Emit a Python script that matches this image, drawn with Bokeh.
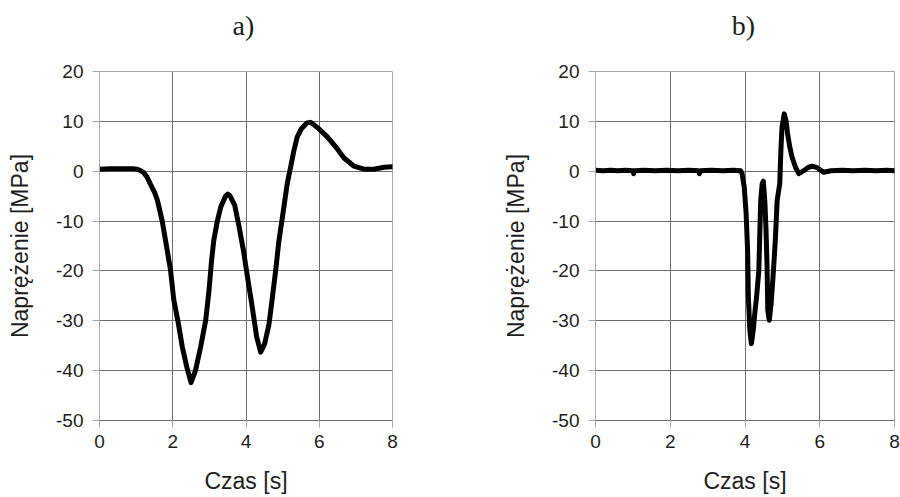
from bokeh.plotting import figure
from bokeh.layouts import row, column
from bokeh.models import Range1d, FixedTicker
from bokeh.core.properties import value
from bokeh.embed import file_html
from bokeh.resources import INLINE

# ---- data ----
x_ticks = [0, 2, 4, 6, 8]
y_ticks = [-50, -40, -30, -20, -10, 0, 10, 20]
y_tick_labels = ["-50", "-40", "-30", "-20", "-10", "0", "10", "20"]
panel_titles = ["a)", "b)"]
x_label = "Czas [s]"
y_label = "Naprężenie [MPa]"

t_a = [0.0, 0.3, 0.6, 0.9, 1.03, 1.1, 1.21, 1.3, 1.39, 1.5,
       1.58, 1.71, 1.85, 1.94, 2.03, 2.14, 2.26, 2.38, 2.5, 2.62,
       2.76, 2.9, 2.99, 3.06, 3.12, 3.22, 3.31, 3.44, 3.5, 3.56,
       3.69, 3.81, 3.93, 4.04, 4.17, 4.29, 4.4, 4.51, 4.63, 4.72,
       4.81, 4.9, 5.02, 5.13, 5.22, 5.31, 5.4, 5.51, 5.67, 5.75,
       5.81, 5.99, 6.22, 6.45, 6.67, 6.95, 7.22, 7.49, 7.77, 8.0]
s_a = [0.4, 0.5, 0.5, 0.5, 0.4, 0.2, -0.3, -1.2, -2.6, -4.2,
       -5.8, -9.9, -15.9, -19.9, -25.9, -30.0, -35.2, -39.2, -42.4, -40.0,
       -35.3, -29.9, -23.9, -17.9, -13.9, -9.9, -7.2, -5.0, -4.6, -4.9,
       -6.8, -11.1, -15.9, -21.2, -27.2, -33.2, -36.3, -34.6, -30.6, -25.3,
       -19.9, -13.9, -7.9, -2.3, 0.9, 4.2, 6.9, 8.5, 9.7, 9.8,
       9.6, 8.5, 6.9, 4.9, 2.7, 1.0, 0.4, 0.4, 0.8, 0.9]

t_b = [0.0, 0.2, 0.4, 0.6, 0.8, 1.0, 1.02, 1.05, 1.3, 1.6,
       1.9, 2.2, 2.5, 2.76, 2.78, 2.8, 3.1, 3.4, 3.7, 3.88,
       3.92, 3.98, 4.03, 4.07, 4.09, 4.13, 4.17, 4.22, 4.27, 4.31,
       4.37, 4.42, 4.46, 4.49, 4.53, 4.56, 4.59, 4.61, 4.65, 4.7,
       4.75, 4.81, 4.86, 4.93, 4.96, 4.99, 5.05, 5.1, 5.14, 5.2,
       5.26, 5.35, 5.44, 5.57, 5.7, 5.8, 5.93, 6.1, 6.3, 6.6,
       6.9, 7.2, 7.5, 7.8, 8.0]
s_b = [0.2, 0.1, 0.2, 0.1, 0.2, 0.1, -0.5, 0.1, 0.2, 0.1,
       0.2, 0.1, 0.2, 0.1, -0.5, 0.1, 0.2, 0.1, 0.2, 0.1,
       -0.4, -3.2, -8.5, -16.0, -25.2, -31.9, -34.6, -31.9, -27.9, -25.2,
       -19.9, -5.9, -2.5, -2.0, -5.9, -11.2, -19.0, -27.9, -29.9, -26.5,
       -21.2, -14.0, -5.9, -2.5, 4.1, 8.8, 11.5, 10.1, 7.5, 4.8,
       2.8, 0.8, -0.5, 0.1, 0.8, 1.0, 0.7, -0.2, 0.1, 0.2,
       0.1, 0.2, 0.1, 0.2, 0.1]

GRID = "#6e6e6e"
LIGHT = "#a8a8a8"
TXT = "#1e1e1e"
SANS = "Liberation Sans"
SERIF = "Liberation Serif"
CAP_H = 50


def make_caption(title, cx):
    # a strip above the panel holding its caption; ranges are in pixels
    c = figure(width=450, height=CAP_H, output_backend="svg", toolbar_location=None,
               x_range=Range1d(0, 450), y_range=Range1d(0, CAP_H),
               min_border=0, title=None)
    c.axis.visible = False
    c.grid.visible = False
    c.outline_line_color = None
    c.text(x=[cx], y=[CAP_H - 25], text=[title], text_font=value(SERIF),
           text_font_size="28px", text_color=TXT, text_align="center",
           text_baseline="middle")
    return c


def make_panel(t, s, b_left, b_right):
    p = figure(width=450, height=497 - CAP_H, output_backend="svg", toolbar_location=None,
               x_range=Range1d(0, 8), y_range=Range1d(-50, 20),
               min_border_left=b_left, min_border_right=b_right,
               min_border_top=71 - CAP_H, min_border_bottom=77, title=None)
    p.outline_line_color = LIGHT
    p.outline_line_width = 1
    for ax in (p.xaxis[0], p.yaxis[0]):
        ax.major_tick_line_color = LIGHT
        ax.minor_tick_line_color = None
        ax.major_tick_out = 7
        ax.major_tick_in = 0
        ax.major_label_text_font = SANS
        ax.major_label_text_font_size = "19px"
        ax.major_label_text_color = TXT
        ax.axis_label_text_font = SANS
        ax.axis_label_text_font_size = "23px"
        ax.axis_label_text_font_style = "normal"
        ax.axis_label_text_color = TXT
    p.xaxis.axis_line_color = GRID
    p.yaxis.axis_line_color = LIGHT
    p.xaxis.ticker = FixedTicker(ticks=x_ticks)
    p.yaxis.ticker = FixedTicker(ticks=y_ticks)
    p.yaxis.major_label_overrides = dict(zip(y_ticks, y_tick_labels))
    p.xaxis.axis_label = x_label
    p.yaxis.axis_label = y_label
    p.xaxis.major_label_standoff = 7
    p.yaxis.major_label_standoff = 9
    p.xaxis.axis_label_standoff = 17
    p.yaxis.axis_label_standoff = 20
    p.xgrid.ticker = FixedTicker(ticks=x_ticks)
    p.ygrid.ticker = FixedTicker(ticks=y_ticks)
    p.xgrid.grid_line_color = GRID
    p.ygrid.grid_line_color = GRID
    p.xgrid.grid_line_width = 1
    p.ygrid.grid_line_width = 1
    p.line(t, s, line_color="black", line_width=5, line_join="round", line_cap="round")
    return p


ca = make_caption(panel_titles[0], 243)
cb = make_caption(panel_titles[1], 293)
pa = make_panel(t_a, s_a, 99, 58)
pb = make_panel(t_b, s_b, 145, 6)

layout = column(row(ca, cb, spacing=0), row(pa, pb, spacing=0), spacing=0)
open("out.html", "w").write(file_html(layout, INLINE))
